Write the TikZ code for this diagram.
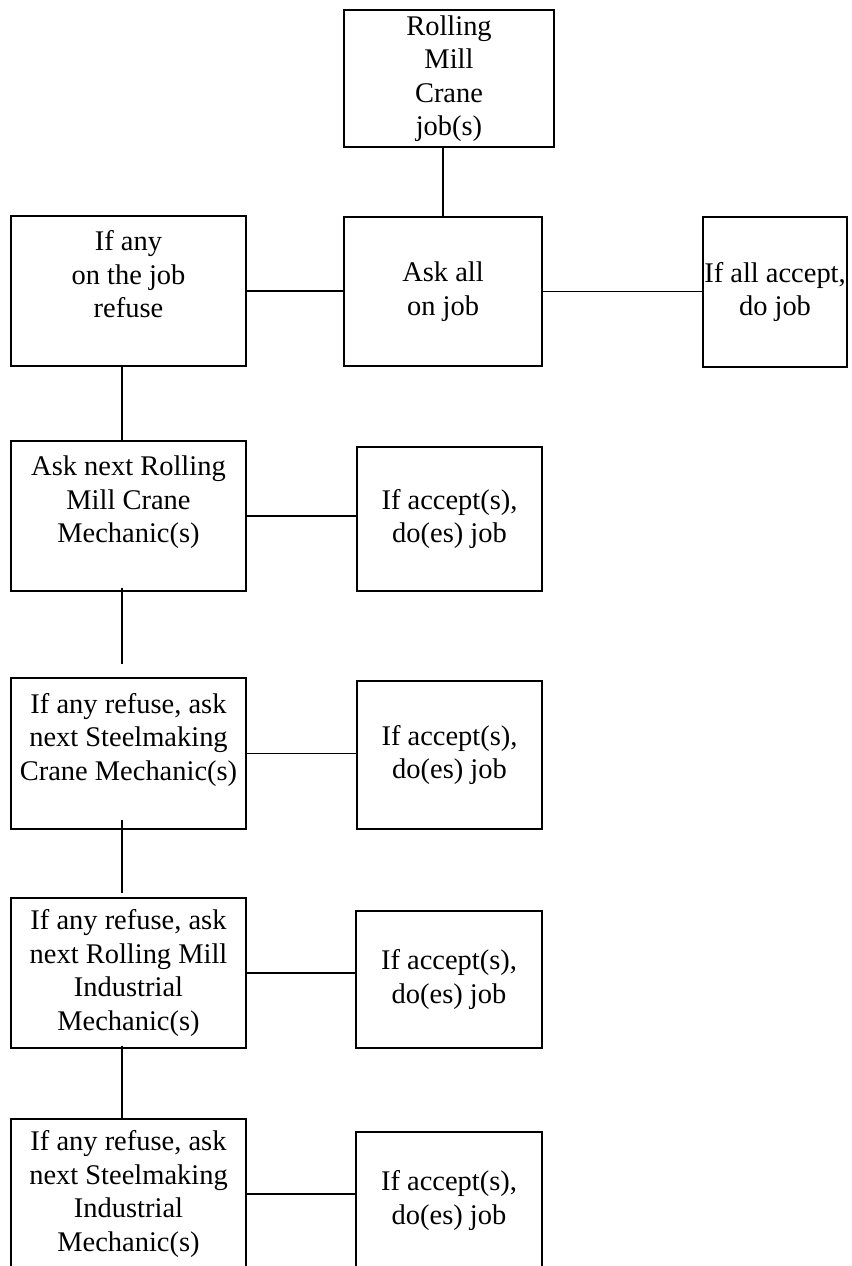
\documentclass[tikz,border=0pt]{standalone}
\usepackage{fontspec}
\setmainfont{Liberation Serif}
\usepackage{tikz}

\begin{document}
\begin{tikzpicture}[
        box/.style={draw, line width=0.7pt, inner sep=0pt, align=center,
            minimum width=4.7cm, minimum height=3cm,
            font=\fontsize{16.2pt}{19pt}\selectfont},
        accbox/.style={box, minimum width=3.7cm, minimum height=2.88cm},
        link/.style={line width=0.6pt}
    ]
                \useasboundingbox (0,0) rectangle (17.02,-25.32);
                % Top row
                \node[box, minimum width=4.2cm, minimum height=2.74cm] (job) at (8.98,-1.57) {Rolling\\Mill\\Crane\\job(s)};
                \node[box] (refuse) at (2.57,-5.82) {If any\\on the job\\refuse\\\mbox{}};
                \node[box, minimum width=3.96cm, minimum height=2.98cm] (askall) at (8.86,-5.83) {Ask all\\on job};
                \node[box, minimum width=2.88cm] (allaccept) at (15.5,-5.84) {If all accept,\\do job};
                % Left column
                \node[box] (asknext1) at (2.57,-10.32) {Ask next Rolling\\Mill Crane\\Mechanic(s)\\\mbox{}};
                \node[box, minimum height=3.02cm] (asknext2) at (2.57,-15.07) {If any refuse, ask\\next Steelmaking\\Crane Mechanic(s)\\\mbox{}};
                \node[box] (asknext3) at (2.57,-19.46) {If any refuse, ask\\next Rolling Mill\\Industrial\\Mechanic(s)};
                \node[box] (asknext4) at (2.57,-23.88) {If any refuse, ask\\next Steelmaking\\Industrial\\Mechanic(s)};
                % Right column
                \node[accbox] (accept1) at (8.99,-10.38) {If accept(s),\\do(es) job};
                \node[accbox, minimum height=2.96cm] (accept2) at (8.99,-15.1) {If accept(s),\\do(es) job};
                \node[accbox, minimum width=3.72cm, minimum height=2.74cm] (accept3) at (8.98,-19.59) {If accept(s),\\do(es) job};
                \node[accbox, minimum width=3.72cm, minimum height=2.74cm] (accept4) at (8.98,-24.01) {If accept(s),\\do(es) job};
                % Connectors
                \draw[link] (askall.north) -- (askall.north |- job.south);
                \draw[link] (refuse.east) -- (refuse.east -| askall.west);
                \draw[link] (askall.east) -- (askall.east -| allaccept.west);
                \draw[link] ([xshift=-0.13cm]refuse.south) -- ([xshift=-0.13cm]asknext1.north);
                \draw[link, shorten <=-0.08cm, shorten >=0.26cm] ([xshift=-0.13cm]asknext1.south) -- ([xshift=-0.13cm]asknext2.north);
                \draw[link, shorten <=-0.2cm, shorten >=0.08cm] ([xshift=-0.13cm]asknext2.south) -- ([xshift=-0.13cm]asknext3.north);
                \draw[link, shorten <=-0.06cm] ([xshift=-0.13cm]asknext3.south) -- ([xshift=-0.13cm]asknext4.north);
                \foreach \i in {1,2,3,4} {
                    \draw[link] (asknext\i.east) -- (asknext\i.east -| accept\i.west);
                }
            \end{tikzpicture}
\end{document}
